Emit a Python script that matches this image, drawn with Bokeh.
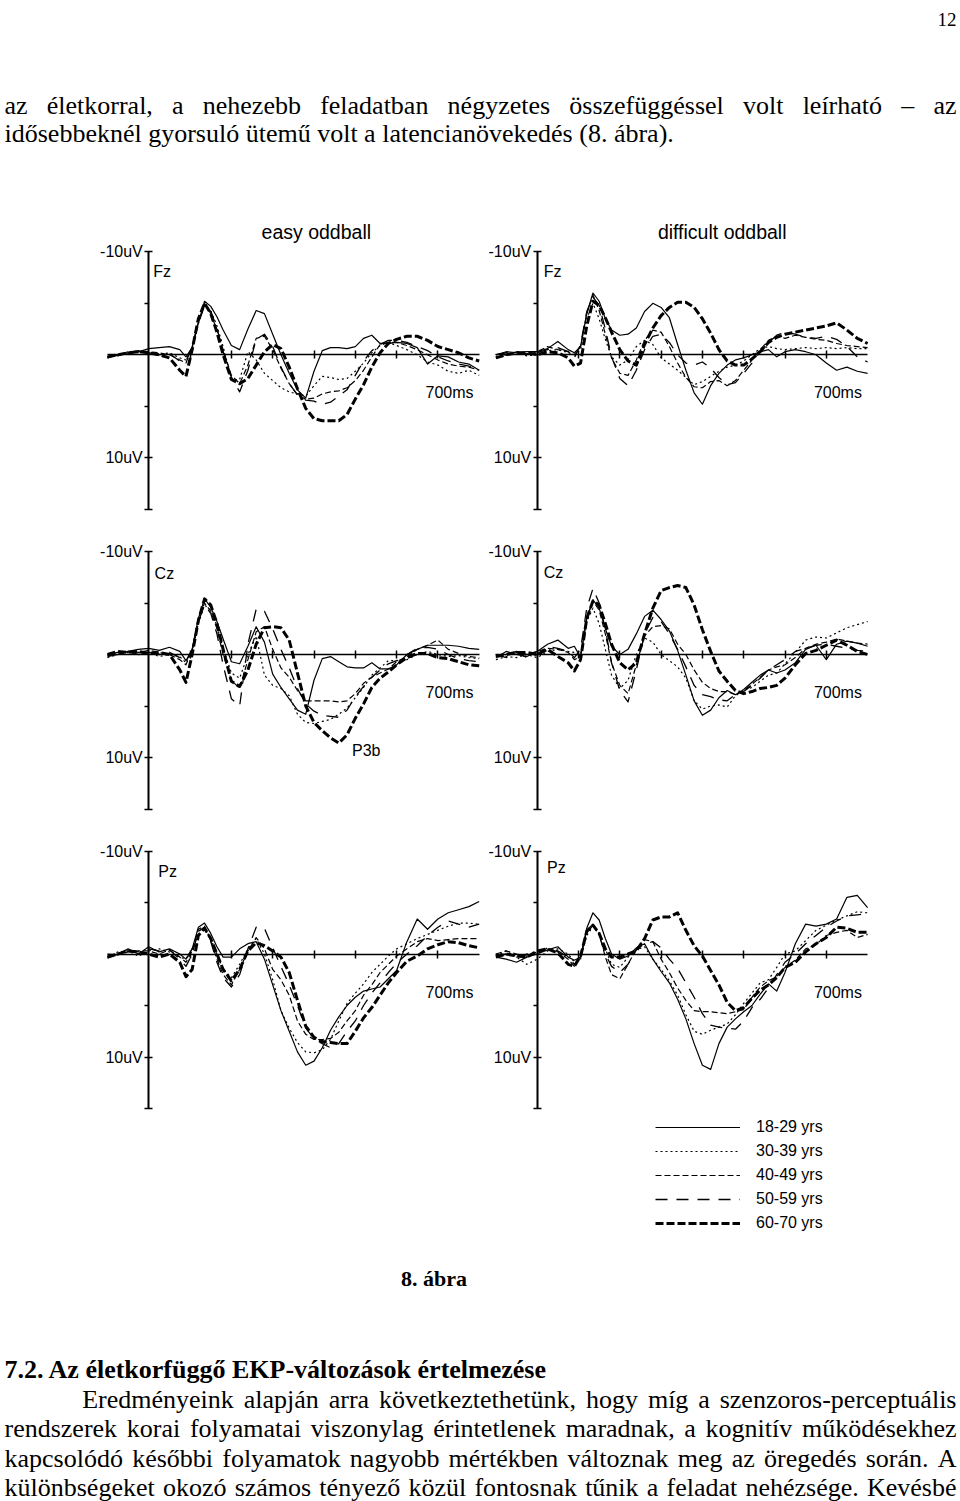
from bokeh.plotting import figure
from bokeh.models import Range1d, LinearAxis, FixedTicker, Legend, LegendItem
from bokeh.core.properties import value
from bokeh.embed import file_html
from bokeh.resources import INLINE

# ---------------- data (uV, negative up) ----------------
T = [-100, -75, -50, -25, 0, 25, 50, 75, 90, 105, 120, 135, 150, 165, 180,
     200, 220, 240, 260, 280, 300, 320, 340, 360, 380, 400, 420, 440, 460, 480,
     500, 520, 540, 560, 580, 600, 625, 650, 675, 700, 725, 750, 775, 800]

AGE_GROUPS = ["18-29 yrs", "30-39 yrs", "40-49 yrs", "50-59 yrs", "60-70 yrs"]
ELECTRODES = ["Fz", "Cz", "Pz"]
CONDITIONS = ["easy oddball", "difficult oddball"]

fz_easy_18 = [0.2, 0.0, -0.2, -0.3, -0.6, -0.7, -0.8, -0.5, 0.2, -0.7, -3.1, -5.2, -4.7, -3.7, -2.4,
              -0.9, -0.5, -2.5, -4.3, -4.0, -2.0, 0.0, 1.8, 3.4, 4.2, 1.6, -0.4, -0.7, -0.7, -0.6, -0.8, -1.6, -1.9, -1.1, -1.1, -1.2,
              -1.1, -0.7, 0.9, 0.1, 0.2, 0.7, 0.9, 1.5]
fz_easy_30 = [0.3, 0.0, -0.3, -0.2, -0.3, 0.0, -0.2, 0.3, 0.5, -0.5, -3.0, -4.9, -4.3, -2.8, -0.8,
              2.4, 2.4, -0.3, 0.5, 1.8, 2.5, 3.2, 3.6, 3.8, 4.0, 3.0, 2.1, 2.2, 2.4, 2.3, 1.6, 0.8, -0.2, -0.9, -1.2, -0.9,
              -0.5, 0.0, 0.7, 1.0, 1.6, 1.8, 1.5, 2.0]
fz_easy_40 = [0.2, 0.1, -0.2, -0.4, -0.3, -0.2, 0.0, 0.5, 0.8, -0.8, -3.2, -5.0, -4.0, -2.4, -0.5,
              2.0, 2.8, 1.0, -1.6, -1.8, -0.5, 1.3, 2.8, 3.9, 4.3, 4.2, 3.8, 3.6, 3.5, 3.2, 2.5, 1.5, 0.2, -1.0, -1.2, -1.2,
              -0.9, -0.5, 0.0, 0.5, 0.9, 1.1, 1.2, 1.5]
fz_easy_50 = [0.3, 0.0, -0.1, -0.3, -0.2, 0.0, -0.1, 0.6, 0.6, -0.8, -3.0, -4.8, -4.2, -2.6, -0.3,
              2.2, 3.6, 1.5, -1.5, -2.0, -0.8, 1.2, 2.8, 3.9, 4.4, 4.5, 4.8, 4.6, 4.0, 3.4, 2.0, 0.6, -0.4, -1.0, -1.4, -1.4,
              -1.2, -0.8, -0.4, 0.2, 0.6, 0.9, 1.1, 1.2]
fz_easy_60 = [0.2, 0.0, -0.2, -0.3, -0.2, 0.0, 0.3, 1.5, 2.1, -0.5, -3.5, -5.0, -4.0, -2.2, 0.0,
              2.4, 2.8, 2.3, 1.0, -0.3, -1.0, -0.6, 1.2, 3.3, 5.2, 6.2, 6.4, 6.4, 6.4, 5.8, 4.3, 2.9, 1.2, -0.2, -1.1, -1.5,
              -1.8, -1.8, -1.4, -0.8, -0.5, -0.2, 0.3, 0.6]

fz_diff_18 = [0.0, -0.3, -0.2, -0.3, -0.3, -0.6, -1.3, -0.5, -0.2, -0.8, -4.0, -6.0, -5.2, -3.5, -2.4,
              -1.9, -2.0, -2.6, -4.2, -5.0, -4.6, -3.6, -1.0, 1.5, 3.7, 4.8, 3.0, 1.8, 1.0, 0.5, 0.3, 0.0, -0.3, -0.5, 0.2, -0.3,
              -0.5, -0.3, 0.0, 0.8, 1.5, 1.2, 1.6, 1.8]
fz_diff_30 = [0.2, 0.0, -0.2, 0.1, 0.0, -0.4, -0.5, -0.2, 0.0, -0.5, -3.5, -5.0, -3.5, -1.5, 0.2,
              1.0, 0.5, -0.8, -1.4, -1.0, 0.3, 0.9, 1.5, 2.2, 2.9, 2.6, 2.1, 1.6, 1.2, 1.0, 0.6, 0.0, -0.6, -0.8, -0.6, -0.5,
              -0.6, -0.7, -0.6, -0.7, -0.6, -0.7, -0.6, -0.6]
fz_diff_40 = [0.3, 0.0, -0.3, 0.0, -0.3, -0.8, -0.5, -0.3, 0.0, -0.8, -4.0, -5.8, -4.3, -2.0, 0.3,
              1.8, 2.0, 0.5, -1.4, -2.4, -2.2, -0.8, 0.8, 2.2, 3.1, 3.2, 2.6, 2.5, 3.0, 2.5, 1.5, 0.5, -0.5, -1.4, -1.8, -1.6,
              -1.9, -1.7, -1.5, -1.4, -1.1, -0.9, -0.8, -0.7]
fz_diff_50 = [0.0, -0.2, -0.3, -0.1, -0.2, -0.5, -0.7, -0.3, 0.3, -1.0, -4.2, -5.6, -4.8, -2.5, 0.2,
              2.3, 3.0, 1.5, -0.5, -1.8, -2.0, -1.2, 0.0, 0.8, 1.0, 0.7, 1.3, 2.2, 2.9, 2.7, 1.8, 0.8, -0.3, -1.2, -1.9, -2.2,
              -2.0, -1.7, -1.6, -1.8, -1.5, -0.8, 0.2, 0.7]
fz_diff_60 = [0.3, 0.0, -0.2, -0.2, 0.0, -0.3, -0.2, 0.3, 1.1, 0.8, -2.8, -5.2, -4.8, -3.6, -2.2,
              -0.5, 0.6, 1.0, -1.0, -2.6, -3.8, -4.6, -5.1, -5.1, -4.6, -3.5, -2.1, -0.5, 0.6, 1.0, 1.0, 0.4, -0.3, -1.2, -1.7, -2.0,
              -2.2, -2.4, -2.6, -2.8, -3.1, -2.4, -1.6, -1.1]

cz_easy_18 = [0.2, 0.0, -0.3, -0.5, -0.6, -0.4, -0.7, -0.3, 0.6, -0.5, -3.5, -5.4, -4.6, -3.2, -1.5,
              0.7, 0.9, -0.8, -2.7, -1.2, 1.9, 3.2, 4.3, 5.4, 5.8, 2.5, 0.4, 0.2, 0.7, 1.2, 1.3, 1.3, 0.8, 1.4, 1.4, 1.0,
              0.0, -0.5, -0.9, -0.9, -0.9, -0.8, -0.6, -0.5]
cz_easy_30 = [0.3, 0.0, -0.2, 0.0, -0.2, 0.2, 0.0, 0.2, 0.8, -0.3, -3.0, -4.8, -4.3, -2.8, -0.6,
              1.8, 2.3, 0.0, -1.8, 2.0, 3.0, 3.3, 4.0, 5.8, 6.6, 6.7, 6.5, 6.3, 5.8, 5.2, 4.2, 3.2, 2.0, 1.3, 0.6, 0.6,
              0.5, 0.0, -0.3, 0.0, 0.2, 0.1, 0.3, 0.4]
cz_easy_40 = [0.1, 0.0, -0.3, -0.2, -0.4, -0.2, 0.0, 0.5, 1.0, -0.5, -3.5, -5.0, -4.2, -2.5, 0.0,
              2.5, 3.3, 0.5, -2.2, -2.7, -0.5, 1.3, 2.2, 3.5, 4.5, 4.5, 4.5, 4.5, 4.6, 4.5, 3.8, 2.8, 2.2, 1.8, 1.4, 0.7,
              0.2, -0.5, -0.9, -1.4, -0.5, -0.1, 0.2, 0.3]
cz_easy_50 = [0.0, -0.2, -0.3, 0.0, -0.2, 0.0, -0.2, 0.3, 0.6, -0.3, -3.2, -4.8, -4.0, -2.0, 1.0,
              4.3, 5.0, -1.0, -4.4, -4.2, -2.5, -0.5, 1.3, 3.3, 4.8, 5.5, 5.9, 6.0, 6.1, 5.4, 4.1, 3.1, 2.2, 1.5, 0.9, 0.6,
              0.0, -0.6, -0.7, -0.5, 0.0, 0.4, 0.6, 0.7]
cz_easy_60 = [0.0, -0.3, -0.2, -0.3, -0.1, -0.2, 0.0, 1.5, 2.7, 0.0, -3.3, -5.4, -4.8, -3.0, -0.5,
              2.6, 3.1, 1.5, -1.0, -2.6, -2.7, -2.6, -1.4, 1.8, 5.0, 6.6, 7.4, 8.1, 8.6, 7.8, 6.2, 4.8, 3.2, 2.3, 1.7, 1.0,
              0.3, -0.1, -0.1, 0.3, 0.4, 0.7, 1.0, 1.1]

cz_diff_18 = [0.3, -0.3, 0.0, 0.2, -0.3, -1.0, -1.4, -0.6, -0.8, 0.3, -3.5, -5.3, -4.5, -2.5, -0.8,
              0.0, -0.5, -2.0, -3.7, -4.3, -3.4, -2.3, -0.4, 2.0, 4.5, 5.9, 5.4, 4.2, 3.5, 3.9, 3.4, 2.7, 2.0, 1.5, 1.8, 1.5,
              0.8, -0.5, -0.9, 0.5, -1.0, -1.3, -1.1, -0.8]
cz_diff_30 = [0.5, 0.2, 0.3, 0.0, 0.3, -0.3, -0.5, -0.3, -0.2, 0.0, -3.2, -4.5, -3.0, -0.5, 2.0,
              3.3, 2.5, 0.0, -1.6, -1.2, 0.0, 0.6, 1.2, 2.3, 4.5, 5.3, 5.0, 4.9, 5.1, 4.0, 3.5, 3.2, 2.6, 2.0, 1.8, 0.9,
              -0.2, -1.4, -1.7, -1.6, -2.1, -2.6, -2.9, -3.2]
cz_diff_40 = [0.2, 0.0, -0.3, 0.0, -0.3, -0.6, -0.5, -0.2, 0.5, 0.2, -3.5, -5.2, -4.3, -2.0, 0.8,
              3.0, 3.8, 1.0, -1.8, -2.7, -2.8, -2.5, -1.0, 0.0, 1.5, 2.7, 3.3, 3.6, 3.6, 3.9, 3.5, 2.9, 2.2, 1.5, 1.2, 1.0,
              0.3, -0.6, -1.0, -1.2, -1.5, -1.3, -1.1, -1.0]
cz_diff_50 = [0.0, 0.3, -0.2, 0.3, 0.0, -0.8, -0.6, -0.3, 0.3, -0.5, -4.5, -6.4, -5.0, -2.5, 0.8,
              3.5, 4.6, 1.5, -2.0, -3.6, -3.2, -2.0, -0.5, 1.2, 3.0, 3.9, 4.1, 4.4, 4.5, 3.9, 3.6, 3.0, 2.3, 1.5, 1.0, 0.5,
              -0.3, -0.6, -0.9, -1.0, -0.8, -0.6, -0.4, -0.3]
cz_diff_60 = [0.2, 0.0, -0.2, -0.2, 0.0, -0.5, 0.2, 0.8, 1.6, 0.5, -3.5, -5.2, -4.8, -3.0, -1.0,
              0.8, 1.5, 0.8, -2.0, -4.5, -6.2, -6.5, -6.7, -6.5, -4.8, -2.4, -0.3, 1.6, 2.6, 3.5, 3.8, 3.6, 3.3, 3.2, 3.0, 2.3,
              1.0, -0.1, -0.4, -0.9, -1.4, -0.9, -0.3, 0.0]

pz_easy_18 = [0.2, 0.0, -0.5, 0.0, -0.7, -0.2, -0.5, 0.0, 0.5, -0.5, -2.6, -3.0, -2.0, -0.7, 0.3,
              0.3, -0.5, -1.0, -1.2, 0.5, 3.0, 5.5, 7.5, 9.5, 10.8, 10.4, 9.1, 7.4, 6.1, 5.0, 4.2, 3.6, 3.4, 3.2, 2.4, 1.6,
              -1.2, -3.4, -2.4, -3.4, -4.0, -4.3, -4.6, -5.1]
pz_easy_30 = [0.3, -0.2, -0.3, 0.2, -0.3, -0.5, -0.2, 0.3, 0.5, -0.5, -2.2, -2.6, -1.5, 0.0, 1.5,
              2.3, 1.0, -0.5, -1.5, 0.0, 2.5, 5.5, 7.2, 8.6, 9.5, 9.6, 9.3, 8.3, 6.5, 4.8, 3.8, 2.9, 1.8, 1.0, 0.2, -0.5,
              -1.0, -1.5, -1.9, -2.3, -2.7, -3.0, -3.0, -2.9]
pz_easy_40 = [0.0, 0.1, -0.2, -0.3, -0.3, 0.0, -0.4, 0.3, 0.8, -0.3, -2.4, -2.7, -1.3, 0.5, 2.0,
              3.0, 1.5, -0.3, -1.6, -0.5, 1.5, 2.5, 4.0, 6.5, 7.8, 8.3, 8.3, 8.2, 7.6, 6.5, 5.5, 4.0, 3.0, 1.8, 1.0, 0.2,
              -0.5, -1.2, -1.5, -1.3, -1.4, -1.5, -1.5, -1.5]
pz_easy_50 = [0.4, 0.0, -0.3, -0.2, -0.5, -0.3, -0.4, 0.5, 1.2, 0.0, -2.2, -2.6, -1.2, 0.8, 2.3,
              3.2, 2.0, -0.5, -2.6, -2.5, -0.6, 1.2, 3.0, 5.0, 7.2, 8.2, 8.7, 9.1, 8.7, 7.5, 6.5, 5.0, 3.8, 2.8, 1.8, 0.9,
              0.0, -0.8, -1.8, -2.6, -3.2, -2.9, -2.6, -2.9]
pz_easy_60 = [0.3, 0.0, -0.3, -0.2, 0.0, 0.3, 0.0, 0.8, 2.2, 1.5, -1.8, -2.5, -1.5, 0.0, 1.5,
              2.6, 1.5, -0.3, -1.1, -0.8, -0.3, 0.3, 1.8, 4.5, 7.0, 8.1, 8.5, 8.6, 8.7, 8.7, 7.5, 6.2, 5.2, 4.0, 2.8, 1.8,
              0.7, 0.2, -0.5, -0.9, -1.2, -1.1, -0.8, -0.6]

pz_diff_18 = [0.3, 0.5, 0.8, 0.3, 0.0, -0.4, -0.7, 0.3, 0.6, 0.3, -2.5, -4.0, -3.3, -1.5, 0.0,
              0.5, 0.2, -0.6, -1.0, 0.5, 1.7, 2.8, 4.4, 6.3, 8.7, 10.8, 11.2, 8.7, 7.1, 6.3, 5.6, 5.0, 3.9, 2.9, 3.6, 1.8,
              -1.0, -2.9, -2.7, -2.9, -3.4, -5.5, -5.7, -4.5]
pz_diff_30 = [0.2, -0.3, 0.3, 1.0, 0.5, -0.3, -0.5, 0.0, 0.8, 0.5, -1.8, -2.7, -2.0, -0.5, 1.0,
              1.3, 0.3, -0.4, -0.7, 0.5, 1.5, 2.6, 4.0, 5.9, 7.5, 7.8, 7.4, 7.1, 6.8, 5.9, 4.8, 3.8, 2.8, 2.5, 1.3, 0.0,
              -0.3, -1.3, -2.3, -2.8, -3.3, -3.7, -4.1, -4.0]
pz_diff_40 = [0.0, -0.3, 0.0, 0.2, -0.2, -0.5, -0.2, 0.5, 1.2, 0.3, -2.3, -2.9, -2.0, 0.3, 2.0,
              2.4, 1.0, -0.5, -1.4, -1.2, 0.5, 1.8, 3.3, 4.5, 5.5, 5.6, 5.6, 5.7, 5.8, 5.6, 5.4, 4.2, 3.2, 2.6, 2.2, 1.3,
              0.6, -0.5, -0.9, -1.8, -2.1, -2.3, -1.6, -1.9]
pz_diff_50 = [0.2, 0.0, 0.3, 0.0, 0.0, -0.6, -0.3, 0.3, 1.0, 0.2, -2.0, -2.8, -1.8, 0.0, 1.2,
              1.8, 1.0, -0.4, -1.0, -1.2, -0.6, 0.5, 1.4, 2.8, 4.2, 5.8, 6.9, 7.1, 7.2, 7.3, 6.5, 5.2, 4.4, 3.3, 2.0, 0.8,
              0.0, -1.0, -1.8, -2.6, -3.2, -3.7, -3.8, -3.9]
pz_diff_60 = [0.3, 0.0, 0.2, 0.3, -0.3, -0.5, -0.1, 1.0, 1.2, 0.2, -2.2, -2.8, -2.0, -0.5, 0.3,
              0.3, 0.0, -0.3, -1.5, -3.3, -3.6, -3.6, -4.0, -2.3, -0.8, 0.2, 1.6, 3.0, 4.7, 5.5, 5.2, 4.3, 3.5, 3.0, 2.3, 1.3,
              0.8, -0.2, -1.0, -1.6, -2.6, -2.5, -2.1, -2.1]

PANELS = {
    (0, 0): [fz_easy_18, fz_easy_30, fz_easy_40, fz_easy_50, fz_easy_60],
    (0, 1): [fz_diff_18, fz_diff_30, fz_diff_40, fz_diff_50, fz_diff_60],
    (1, 0): [cz_easy_18, cz_easy_30, cz_easy_40, cz_easy_50, cz_easy_60],
    (1, 1): [cz_diff_18, cz_diff_30, cz_diff_40, cz_diff_50, cz_diff_60],
    (2, 0): [pz_easy_18, pz_easy_30, pz_easy_40, pz_easy_50, pz_easy_60],
    (2, 1): [pz_diff_18, pz_diff_30, pz_diff_40, pz_diff_50, pz_diff_60],
}

# electrode label positions (ms, uV) per panel
LABEL_POS = {(0, 0): (11, -8.1), (0, 1): (16, -8.1), (1, 0): (14, -7.9),
             (1, 1): (16, -8.0), (2, 0): (23, -8.0), (2, 1): (24, -8.4)}

# page text
TOP_LINE_1 = "az életkorral, a nehezebb feladatban négyzetes összefüggéssel volt leírható – az"
TOP_LINE_2 = "idősebbeknél gyorsuló ütemű volt a latencianövekedés (8. ábra)."
CAPTION = "8. ábra"
HEADING = "7.2. Az életkorfüggő EKP-változások értelmezése"
BODY = [
    "Eredményeink alapján arra következtethetünk, hogy míg a szenzoros-perceptuális",
    "rendszerek korai folyamatai viszonylag érintetlenek maradnak, a kognitív működésekhez",
    "kapcsolódó későbbi folyamatok nagyobb mértékben változnak meg az öregedés során. A",
    "különbségeket okozó számos tényező közül fontosnak tűnik a feladat nehézsége. Kevésbé",
]
PAGE_NO = "12"

# ---------------- layout ----------------
W, H = 960, 1501
OX, OY = 0, 0
COL_AXIS_X = [148.3, 536.7]
ROW_ZERO_Y = [354.3, 654.0, 953.5]
PX_MS = 0.413
PX_UV = 10.3

SANS = "Liberation Sans"
SERIF = "Liberation Serif"

STYLES = [
    dict(line_width=1.2, line_dash="solid"),
    dict(line_width=1.2, line_dash="2 3"),
    dict(line_width=1.2, line_dash="6 3"),
    dict(line_width=1.3, line_dash="12 9"),
    dict(line_width=3.0, line_dash="8 3"),
]

p = figure(width=W, height=H, x_range=Range1d(OX, OX + W), y_range=Range1d(OY + H, OY),
           output_backend="svg", toolbar_location=None, x_axis_type=None, y_axis_type=None,
           min_border=0, outline_line_color=None, background_fill_color="white",
           border_fill_color="white")

p.extra_x_ranges = {f"t{c}": Range1d((OX - ax) / PX_MS, (OX + W - ax) / PX_MS)
                    for c, ax in enumerate(COL_AXIS_X)}
p.extra_y_ranges = {f"v{r}": Range1d((OY + H - zy) / PX_UV, (OY - zy) / PX_UV)
                    for r, zy in enumerate(ROW_ZERO_Y)}

axis_common = dict(axis_line_color="black", axis_line_width=1.6, major_tick_line_color="black",
                   major_tick_line_width=1.5, minor_tick_line_color=None,
                   major_label_text_font=SANS, major_label_text_font_size="16px",
                   major_label_text_color="black", major_label_standoff=2)

first_renderers = []
for (r, c), series in PANELS.items():
    xr, yr = f"t{c}", f"v{r}"
    v1 = LinearAxis(x_range_name=xr, y_range_name=yr, fixed_location=0, bounds=(-10, 15),
                    ticker=FixedTicker(ticks=[-10, 10, 15]),
                    major_label_overrides={-10: "-10uV", 10: "10uV", 15: ""},
                    major_tick_in=4, major_tick_out=4, **axis_common)
    p.add_layout(v1, "left")
    v2 = LinearAxis(x_range_name=xr, y_range_name=yr, fixed_location=0, bounds=(-10, 15),
                    ticker=FixedTicker(ticks=[-5, 5]), major_label_overrides={-5: "", 5: ""},
                    major_tick_in=0, major_tick_out=4, **axis_common)
    p.add_layout(v2, "left")
    tticks = [100, 200, 300, 400, 500, 600, 700]
    hx = LinearAxis(x_range_name=xr, y_range_name=yr, fixed_location=0, bounds=(-100, 800),
                    ticker=FixedTicker(ticks=tticks), major_label_overrides={t: "" for t in tticks},
                    major_tick_in=4, major_tick_out=4, **axis_common)
    p.add_layout(hx, "below")

    for k, vals in enumerate(series):
        rr = p.line(T, vals, x_range_name=xr, y_range_name=yr, line_color="black",
                    line_join="round", **STYLES[k])
        if (r, c) == (0, 0):
            first_renderers.append(rr)

    lt, lv = LABEL_POS[(r, c)]
    p.text(x=[lt], y=[lv], text=[ELECTRODES[r]], x_range_name=xr, y_range_name=yr,
           text_font=value(SANS), text_font_size="16px", text_color="black",
           text_align="left", text_baseline="middle")
    p.text(x=[670], y=[3.7], text=["700ms"], x_range_name=xr, y_range_name=yr,
           text_font=value(SANS), text_font_size="16px", text_color="black",
           text_align="left", text_baseline="middle")
    if (r, c) == (1, 0):
        p.text(x=[492], y=[9.3], text=["P3b"], x_range_name=xr, y_range_name=yr,
               text_font=value(SANS), text_font_size="16px", text_color="black",
               text_align="left", text_baseline="middle")

# condition titles
p.text(x=[315.8, 721.7], y=[231.5, 231.5], text=CONDITIONS, text_font=value(SANS),
       text_font_size="19.5px", text_color="black", text_align="center",
       text_baseline="alphabetic")

# legend position in screen px from the frame's bottom-left
LEG_X = 655 - OX
LEG_Y = (OY + H) - 1233
legend = Legend(items=[LegendItem(label=AGE_GROUPS[k], renderers=[first_renderers[k]])
                       for k in range(5)],
                location=(LEG_X, LEG_Y), orientation="vertical", glyph_width=85, glyph_height=20,
                label_height=20, label_standoff=16, spacing=4, padding=0, margin=0,
                border_line_color=None, background_fill_alpha=0,
                label_text_font=SANS, label_text_font_size="16px", label_text_color="black")
p.add_layout(legend)

# ---------------- page text (Times metrics for justification) ----------------
TW = {' ': 250, 'a': 444, 'b': 500, 'c': 444, 'd': 500, 'e': 444, 'f': 333, 'g': 500, 'h': 500,
      'i': 278, 'j': 278, 'k': 500, 'l': 278, 'm': 778, 'n': 500, 'o': 500, 'p': 500, 'q': 500,
      'r': 333, 's': 389, 't': 278, 'u': 500, 'v': 500, 'w': 722, 'x': 500, 'y': 500, 'z': 444,
      'A': 722, 'E': 611, 'K': 722, 'P': 556, ',': 250, '.': 250, '-': 333, '(': 333, ')': 333,
      '–': 500, 'í': 278, 'é': 444, 'á': 444, 'ó': 500, 'ö': 500, 'ő': 500, 'ú': 500, 'ü': 500,
      'ű': 500}


def tw(s, size):
    return sum(TW.get(ch, 500) for ch in s) / 1000.0 * size


def justified(line, x0, x1, size):
    words = line.split(" ")
    widths = [tw(w, size) for w in words]
    gap = (x1 - x0 - sum(widths)) / (len(words) - 1)
    xs, x = [], x0
    for w in widths:
        xs.append(x)
        x += w + gap
    return words, xs


FS = 26
LEFT, RIGHT = 4, 956
serif = dict(text_font=value(SERIF), text_color="black", text_baseline="alphabetic")

words, xs = justified(TOP_LINE_1, LEFT, RIGHT, FS)
p.text(x=xs, y=[105] * len(words), text=words, text_font_size=f"{FS}px", text_align="left", **serif)
p.text(x=[LEFT], y=[133.3], text=[TOP_LINE_2], text_font_size=f"{FS}px", text_align="left", **serif)
p.text(x=[956], y=[18.5], text=[PAGE_NO], text_font_size="19px", text_align="right", **serif)

p.text(x=[433.5], y=[1278.3], text=[CAPTION], text_font_size="22px", text_font_style="bold",
       text_align="center", **serif)
p.text(x=[LEFT], y=[1369.3], text=[HEADING], text_font_size=f"{FS}px", text_font_style="bold",
       text_align="left", **serif)

body_y = [1399, 1428.3, 1457.5, 1486.7]
body_x0 = [81.7, LEFT, LEFT, LEFT]
for line, y0, x0 in zip(BODY, body_y, body_x0):
    words, xs = justified(line, x0, RIGHT, FS)
    p.text(x=xs, y=[y0] * len(words), text=words, text_font_size=f"{FS}px", text_align="left", **serif)

open("out.html", "w").write(file_html(p, INLINE))
